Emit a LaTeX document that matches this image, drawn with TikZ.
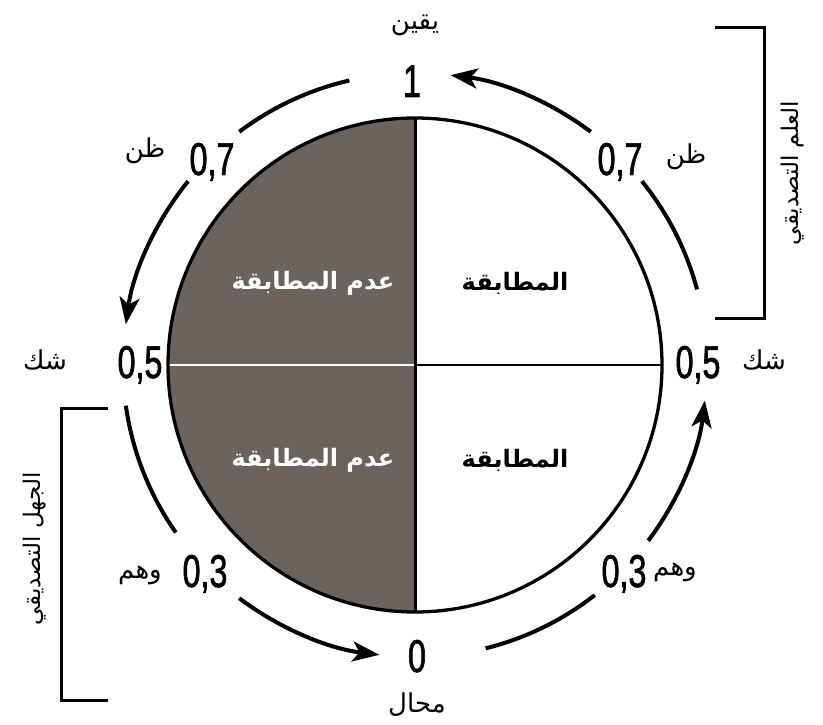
\documentclass[tikz,border=0pt]{standalone}
\usepackage{fontspec}
\usepackage{xcolor}
\usetikzlibrary{arrows.meta, calc, math}
\TeXXeTstate=1
\newfontfamily\arabicfont[Script=Arabic]{DejaVu Sans}
\newfontfamily\numfont[FakeStretch=0.7,FakeBold=1.4]{Liberation Sans}
\definecolor{mygray}{RGB}{107,99,94}

\tikzset{
num/.style={inner sep=0, anchor=base, font=\numfont\fontsize{46}{50}\selectfont},
ar/.style={inner sep=0, font=\arabicfont\fontsize{26}{30}\selectfont},
side/.style={inner sep=0, rotate=90, font=\arabicfont\fontsize{23}{27}\selectfont},
inlab/.style={inner sep=0, font=\arabicfont\bfseries\fontsize{24}{28}\selectfont},
arcline/.style={line width=4},
arcarrow/.style={line width=4,-{Stealth[length=27pt,width=20pt,inset=7pt]}},
brace/.style={line width=3}
}

\begin{document}
\begin{tikzpicture}[x=1pt,y=1pt]
\tikzmath{
\R=247;
\Ro=292;
}
\useasboundingbox (0,0) rectangle (823,724);
\coordinate (c) at (415,359);

% disc
\fill[mygray] ($(c)+(0,\R)$) arc[start angle=90, end angle=270, radius=\R] -- cycle;
\draw[white, line width=2.5] (c) -- ++(-\R,0);
\draw[line width=2.5] (c) -- ++(\R,0);
\draw[line width=3] ($(c)+(0,\R)$) -- ($(c)-(0,\R)$);
\draw[line width=3.3] (c) circle (\R);

\node[inlab, white] (nm1) at (313,441) {\beginR عدم المطابقة\endR};
\node[inlab] (m1) at (515,441) {\beginR المطابقة\endR};
\node[inlab, white] (nm2) at (313,264) {\beginR عدم المطابقة\endR};
\node[inlab] (m2) at (515,264) {\beginR المطابقة\endR};

% outer arcs
\draw[arcarrow] ($(c)+(53:\Ro)$) arc[start angle=53, end angle=83, radius=\Ro];
\draw[arcline] ($(c)+(103:\Ro)$) arc[start angle=103, end angle=127, radius=\Ro];
\draw[arcarrow] ($(c)+(141:\Ro)$) arc[start angle=141, end angle=172, radius=\Ro];
\draw[arcline] ($(c)+(15:\Ro)$) arc[start angle=15, end angle=39, radius=\Ro];
\draw[arcarrow] ($(c)+(-37:\Ro)$) arc[start angle=-37, end angle=-7, radius=\Ro];
\draw[arcline] ($(c)+(-172:\Ro)$) arc[start angle=-172, end angle=-145, radius=\Ro];
\draw[arcarrow] ($(c)+(-127:\Ro)$) arc[start angle=-127, end angle=-97, radius=\Ro];
\draw[arcline] ($(c)+(-76:\Ro)$) arc[start angle=-76, end angle=-52, radius=\Ro];

% values
\node[num] (v1) at (412,627) {1};
\node[num] (v7r) at (620,549) {0,7};
\node[num] (v7l) at (212,549) {0,7};
\node[num] (v5r) at (698,346) {0,5};
\node[num] (v5l) at (140,346) {0,5};
\node[num] (v3r) at (624,137) {0,3};
\node[num] (v3l) at (205,137) {0,3};
\node[num] (v0) at (417,52) {0};

\node[ar] (t1) at (415,699) {\beginR يقين\endR};
\node[ar] (t7r) at (686,567) {\beginR ظن\endR};
\node[ar] (t7l) at (145,573) {\beginR ظن\endR};
\node[ar] (t5r) at (764,364) {\beginR شك\endR};
\node[ar] (t5l) at (45,364) {\beginR شك\endR};
\node[ar] (t3r) at (675,152) {\beginR وهم\endR};
\node[ar] (t3l) at (140,149) {\beginR وهم\endR};
\node[ar] (t0) at (417,19) {\beginR محال\endR};

% brackets
\draw[brace] (715,696) -- (764,696) -- (764,405) -- (715,405);
\node[side] (know) at (793,551) {\beginR العلم التصديقي\endR};
\draw[brace] (108,315) -- (61,315) -- (61,24) -- (108,24);
\node[side] (ignor) at (35,175) {\beginR الجهل التصديقي\endR};

\end{tikzpicture}
\end{document}
